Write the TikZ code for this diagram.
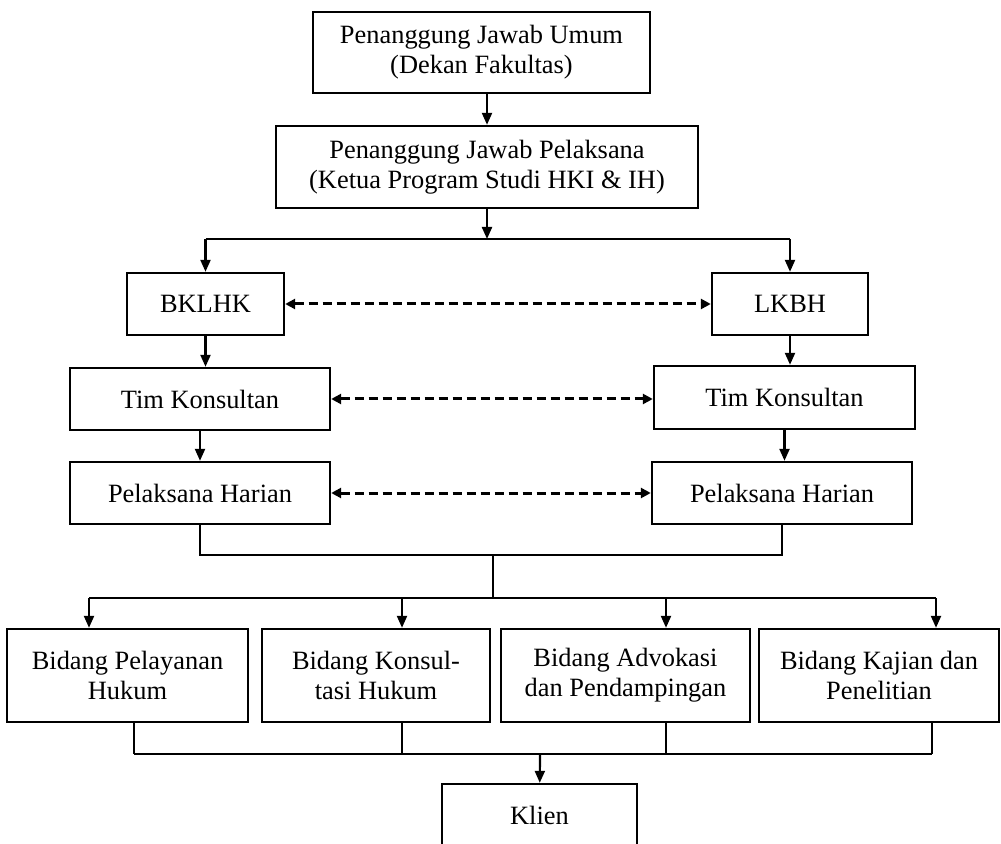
\documentclass[tikz,border=0pt]{standalone}
\usepackage{fontspec}
\setmainfont{Liberation Serif}
\usetikzlibrary{arrows.meta,positioning}

\begin{document}
\begin{tikzpicture}[
    x=0.5pt, y=-0.5pt,
    orgbox/.style={draw, line width=1.2pt, align=center, inner sep=0pt,
        font=\fontsize{13.2}{15}\selectfont},
    link/.style={line width=1.1pt, -{Triangle[length=6pt,width=5pt]}},
    plainlink/.style={line width=1.1pt},
    dualink/.style={line width=1.5pt, dash pattern=on 4.5pt off 2.5pt,
        {Triangle[length=5pt,width=5pt]}-{Triangle[length=5pt,width=5pt]}}
    ]
    \clip (0,0) rectangle (1001,844);
    % pimpinan
    \node[orgbox, minimum width=168.5pt, minimum height=40.5pt] (umum) at (481.5,52.5)
        {Penanggung Jawab Umum\\(Dekan Fakultas)};
    \node[orgbox, minimum width=211pt, minimum height=41pt] (pj) at (487,167)
        {Penanggung Jawab Pelaksana\\(Ketua Program Studi HKI \& IH)};
    % dua lembaga
    \node[orgbox, minimum width=78.5pt, minimum height=31pt] (bklhk) at (205.5,304) {BKLHK};
    \node[orgbox, minimum width=78pt, minimum height=31pt] (lkbh) at (790,304) {LKBH};
    \node[orgbox, minimum width=130pt, minimum height=31pt] (timL) at (200,399) {Tim Konsultan};
    \node[orgbox, minimum width=130.5pt, minimum height=31.5pt] (timR) at (784.5,397.5) {Tim Konsultan};
    \node[orgbox, minimum width=130pt, minimum height=31pt] (harL) at (200,493) {Pelaksana Harian};
    \node[orgbox, minimum width=130pt, minimum height=31pt] (harR) at (782,493) {Pelaksana Harian};
    % bidang
    \node[orgbox, minimum width=120.5pt, minimum height=46.5pt] (b1) at (127.5,675.5)
        {Bidang Pelayanan\\Hukum};
    \node[orgbox, minimum width=114pt, minimum height=46.5pt] (b2) at (376,675.5)
        {Bidang Konsul-\\tasi Hukum};
    \node[orgbox, minimum width=124.5pt, minimum height=46.5pt] (b3) at (625.5,675.5)
        {Bidang Advokasi\\dan Pendampingan};
    \node[orgbox, minimum width=120pt, minimum height=46.5pt] (b4) at (879,675.5)
        {Bidang Kajian dan\\Penelitian};
    \node[orgbox, minimum width=97.5pt, minimum height=31pt] (klien) at (539.5,815) {Klien};

    \coordinate (top) at (487,239);
    \coordinate (fork) at (493,555);
    \coordinate (bar) at (493,598);
    \coordinate (join) at (540,754);

    \draw[link] (umum.south -| pj.north) -- (pj.north);
    \draw[link] (pj) -- (top);
    \draw[plainlink] (bklhk.north |- top) -- (lkbh.north |- top);
    \draw[link] (bklhk.north |- top) -- (bklhk);
    \draw[link] (lkbh.north |- top) -- (lkbh);

    \draw[link] (bklhk) -- (bklhk |- timL.north);
    \draw[link] (timL) -- (timL |- harL.north);
    \draw[link] (lkbh) -- (lkbh |- timR.north);
    \draw[link] (timR) -- (timR |- harR.north);

    \draw[dualink] (bklhk) -- (lkbh);
    \draw[dualink] (timL.east) -- (timL.east -| timR.west);
    \draw[dualink] (harL) -- (harR);

    \draw[plainlink] (harL) |- (fork) -| (harR);
    \draw[plainlink] (fork) -- (bar);

    \foreach \n/\dx in {1/-19.25, 2/13, 3/20.25, 4/28.5}
        \coordinate (in\n) at ([xshift=\dx pt]b\n.north);
    \draw[plainlink] (in1 |- bar) -- (in4 |- bar);
    \foreach \n in {1,...,4}
        \draw[link] (in\n |- bar) -- (in\n);

    \foreach \n/\dx in {1/3.25, 2/13, 3/20.25, 4/26.5}
        \coordinate (out\n) at ([xshift=\dx pt]b\n.south);
    \draw[plainlink] (out1 |- join) -- (out4 |- join);
    \foreach \n in {1,...,4}
        \draw[plainlink] (out\n) -- (out\n |- join);
    \draw[link] (join) -- (klien);
\end{tikzpicture}
\end{document}
